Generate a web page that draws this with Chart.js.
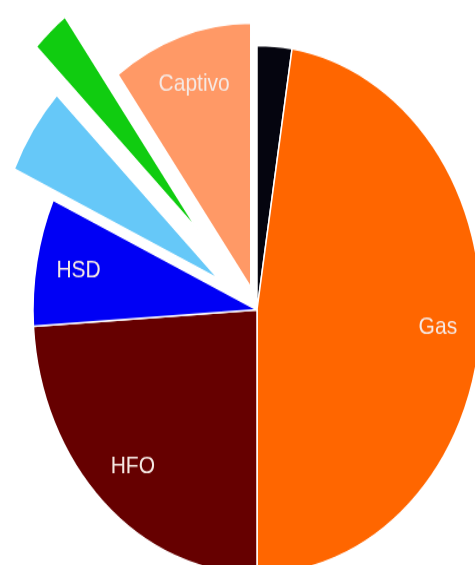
<!DOCTYPE html>
<html>
<head>
<meta charset="utf-8">
<script src="https://cdn.jsdelivr.net/npm/chart.js@4"></script>
<style>
  html { overflow: hidden; }
  html, body { margin: 0; padding: 0; background: #fff; width: 475px; height: 565px; }
  /* the source pie is an ellipse, so the chart is drawn round and stretched */
  #wrap { position: relative; width: 475px; height: 479px; transform: scaleY(1.18); transform-origin: 0 0; }
</style>
</head>
<body>
<div id="wrap"><canvas id="myChart"></canvas></div>
<script>
const categories = ['Coal', 'Gas', 'HFO', 'HSD', 'Hydro', 'Solar', 'Captivo']
const shares = [2.5, 47.5, 24.0, 7.8, 5.4, 2.7, 10.1]
const sliceLabels = ['', 'Gas', 'HFO', 'HSD', '', '', 'Captivo']

const colors = ['#05050f', '#ff6600', '#660000', '#0000f5', '#66c8f8', '#10cc10', '#ff9966']
// how far each slice is pulled out (px)
const explode = [0, 0, 0, 0, 47, 90, 20]

const explodePlugin = {
  id: 'explode',
  afterDatasetUpdate(chart, args) {
    const meta = chart.getDatasetMeta(args.index)
    meta.data.forEach((arc, i) => {
      const mid = (arc.startAngle + arc.endAngle) / 2
      arc.x += Math.cos(mid) * explode[i]
      arc.y += Math.sin(mid) * explode[i]
    })
  }
}

const labelPlugin = {
  id: 'sliceLabels',
  afterDatasetsDraw(chart) {
    const ctx = chart.ctx
    const meta = chart.getDatasetMeta(0)
    ctx.save()
    ctx.font = '21px "Liberation Sans", Arial, sans-serif'
    ctx.fillStyle = '#f6e9e4'
    ctx.textAlign = 'center'
    ctx.textBaseline = 'middle'
    meta.data.forEach((arc, i) => {
      if (!sliceLabels[i]) return
      const mid = (arc.startAngle + arc.endAngle) / 2
      const r = arc.outerRadius * 0.81
      ctx.fillText(sliceLabels[i], arc.x + Math.cos(mid) * r, arc.y + Math.sin(mid) * r)
    })
    ctx.restore()
  }
}

const data = {
  labels: categories,
  datasets: [{
    data: shares,
    backgroundColor: colors,
    borderColor: '#ffffff',
    borderWidth: 1.5,
    clip: false
  }]
}

const config = {
  type: 'pie',
  data: data,
  options: {
    responsive: true,
    maintainAspectRatio: false,
    animation: false,
    events: [],
    radius: 224,
    layout: { padding: { left: 39, top: 46, right: 0, bottom: 0 } },
    plugins: {
      legend: { display: false },
      tooltip: { enabled: false }
    }
  },
  plugins: [explodePlugin, labelPlugin]
}

const myChart = new Chart(
  document.getElementById('myChart'),
  config
)
</script>
</body>
</html>
